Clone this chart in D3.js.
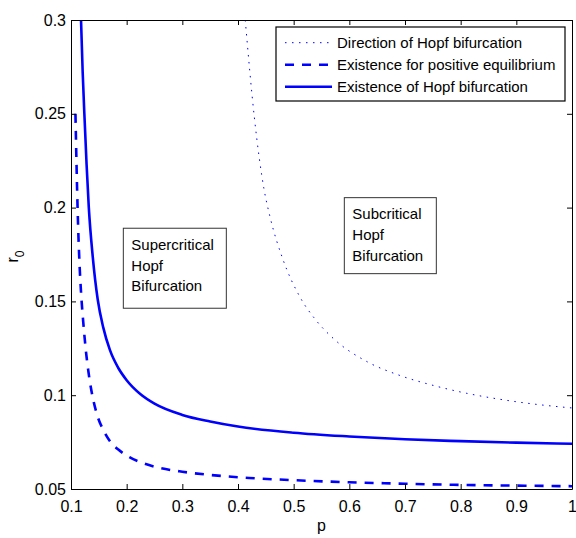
<!DOCTYPE html>
<html lang="en">
<head>
    <meta charset="UTF-8">
    <title></title>
    <style>
        body { margin: 0; background: #fff; }
        text { font-family: "Liberation Sans", Arial, Helvetica, sans-serif; }
    </style>
</head>
<body>
</body>
<script src="https://cdnjs.cloudflare.com/ajax/libs/d3/7.8.5/d3.min.js" charset="utf-8"></script>
<script>
    // values
    var hopfP = [0.118, 0.121, 0.124, 0.128, 0.132, 0.139, 0.148, 0.158, 0.170, 0.185, 0.200, 0.225, 0.250, 0.300, 0.350, 0.400, 0.500, 0.600, 0.700, 0.800, 0.900, 1.000];
    var hopfR = [0.300, 0.272, 0.250, 0.223, 0.200, 0.174, 0.151, 0.136, 0.124, 0.1145, 0.108, 0.1005, 0.0955, 0.0895, 0.0860, 0.0833, 0.0800, 0.0780, 0.0765, 0.0755, 0.0747, 0.0741];

    var eqP = [0.108, 0.110, 0.112, 0.115, 0.118, 0.122, 0.127, 0.133, 0.140, 0.148, 0.158, 0.170, 0.185, 0.205, 0.230, 0.260, 0.300, 0.350, 0.420, 0.500, 0.600, 0.700, 0.800, 0.900, 1.000];
    var eqR = [0.250, 0.222, 0.198, 0.172, 0.155, 0.139, 0.123, 0.109, 0.0975, 0.0885, 0.0815, 0.0755, 0.0710, 0.0670, 0.0637, 0.0612, 0.0592, 0.0575, 0.0559, 0.0547, 0.0536, 0.0528, 0.0522, 0.0518, 0.0515];

    var dirP = [0.413, 0.4294, 0.447, 0.4575, 0.480, 0.511, 0.540, 0.571, 0.631, 0.691, 0.751, 0.811, 0.871, 0.931, 1.000];
    var dirR = [0.300, 0.2480, 0.2094, 0.1951, 0.1730, 0.1525, 0.1400, 0.1303, 0.1180, 0.1105, 0.1052, 0.1010, 0.0978, 0.0953, 0.0932];

    var xTicks = [0.1, 0.2, 0.3, 0.4, 0.5, 0.6, 0.7, 0.8, 0.9, 1];
    var yTicks = [0.05, 0.1, 0.15, 0.2, 0.25, 0.3];

    var legendLabels = ["Direction of Hopf bifurcation", "Existence for positive equilibrium", "Existence of Hopf bifurcation"];

    var W = 576, H = 538;
    var mLeft = 71, mRight = 572, mTop = 20, mBottom = 489;

    var svg = d3.select("body").append("svg")
            .attr("width", W)
            .attr("height", H);

    var x = d3.scaleLinear().domain([0.1, 1]).range([mLeft, mRight]);
    var y = d3.scaleLinear().domain([0.05, 0.3]).range([mBottom, mTop]);

    svg.append("clipPath").attr("id", "plotclip")
            .append("rect")
            .attr("x", mLeft).attr("y", mTop)
            .attr("width", mRight - mLeft).attr("height", mBottom - mTop);

    var line = d3.line()
            .x(function(d) { return x(d[0]); })
            .y(function(d) { return y(d[1]); })
            .curve(d3.curveMonotoneX);

    function pairs(px, py) {
        return px.map(function(p, i) { return [p, py[i]]; });
    }

    var series = [
        {data: pairs(dirP, dirR), width: 1, dash: "1.5,5.5"},
        {data: pairs(eqP, eqR), width: 2.6, dash: "9,8"},
        {data: pairs(hopfP, hopfR), width: 2.6, dash: null}
    ];

    var plot = svg.append("g").attr("clip-path", "url(#plotclip)");
    series.forEach(function(s) {
        plot.append("path")
                .attr("d", line(s.data))
                .style("fill", "none")
                .style("stroke", "#0000ff")
                .style("stroke-width", s.width)
                .style("stroke-dasharray", s.dash);
    });

    // axes, ticks pointing inward on all four sides
    function styleAxis(g) {
        g.selectAll("path.domain").style("stroke", "#000").style("stroke-width", 1);
        g.selectAll(".tick line").style("stroke", "#000");
        g.selectAll(".tick text").style("font-size", "16px").style("fill", "#000")
                .style("font-family", "'Liberation Sans', Arial, sans-serif");
    }

    svg.append("g")
            .attr("transform", "translate(0," + mBottom + ")")
            .call(d3.axisBottom(x).tickValues(xTicks).tickFormat(String)
                    .tickSizeInner(-5).tickSizeOuter(0).tickPadding(12))
            .call(styleAxis);

    svg.append("g")
            .attr("transform", "translate(" + mLeft + ",0)")
            .call(d3.axisLeft(y).tickValues(yTicks).tickFormat(String)
                    .tickSizeInner(-5).tickSizeOuter(0).tickPadding(5))
            .call(styleAxis);

    svg.append("g")
            .attr("transform", "translate(0," + mTop + ")")
            .call(d3.axisTop(x).tickValues(xTicks).tickFormat("")
                    .tickSizeInner(-5).tickSizeOuter(0))
            .call(styleAxis);

    svg.append("g")
            .attr("transform", "translate(" + mRight + ",0)")
            .call(d3.axisRight(y).tickValues(yTicks).tickFormat("")
                    .tickSizeInner(-5).tickSizeOuter(0))
            .call(styleAxis);

    // axis labels
    svg.append("text")
            .attr("x", (mLeft + mRight) / 2)
            .attr("y", 531)
            .attr("text-anchor", "middle")
            .style("font-size", "16px")
            .text("p");

    var ylab = svg.append("text")
            .attr("transform", "translate(18," + ((mTop + mBottom) / 2 + 2) + ") rotate(-90)")
            .attr("text-anchor", "middle")
            .style("font-size", "16px");
    ylab.append("tspan").text("r");
    ylab.append("tspan").attr("dy", 6).style("font-size", "12px").text("0");

    // legend
    var legend = svg.append("g").attr("transform", "translate(276,27)");
    legend.append("rect")
            .attr("width", 289).attr("height", 74)
            .style("fill", "#fff").style("stroke", "#000").style("stroke-width", 1.2);

    legendLabels.forEach(function(label, i) {
        var ly = 15.7 + i * 22;
        legend.append("line")
                .attr("x1", 9).attr("x2", 56)
                .attr("y1", ly).attr("y2", ly)
                .style("stroke", "#0000ff")
                .style("stroke-width", series[i].width)
                .style("stroke-dasharray", series[i].dash);
        legend.append("text")
                .attr("x", 61).attr("y", ly)
                .attr("dy", "0.35em")
                .style("font-size", "15px")
                .text(label);
    });

    // region annotations
    var notes = [
        {p: 0.194, r: 0.189, w: 103, h: 80, lines: ["Supercritical", "Hopf", "Bifurcation"]},
        {p: 0.591, r: 0.2053, w: 92, h: 76, lines: ["Subcritical", "Hopf", "Bifurcation"]}
    ];

    notes.forEach(function(n) {
        var g = svg.append("g").attr("transform", "translate(" + x(n.p) + "," + y(n.r) + ")");
        g.append("rect")
                .attr("width", n.w).attr("height", n.h)
                .style("fill", "#fff").style("stroke", "#333").style("stroke-width", 1);
        n.lines.forEach(function(t, i) {
            g.append("text")
                    .attr("x", 8)
                    .attr("y", 21.5 + i * 20.8)
                    .style("font-size", "15px")
                    .text(t);
        });
    });
</script>
</html>
